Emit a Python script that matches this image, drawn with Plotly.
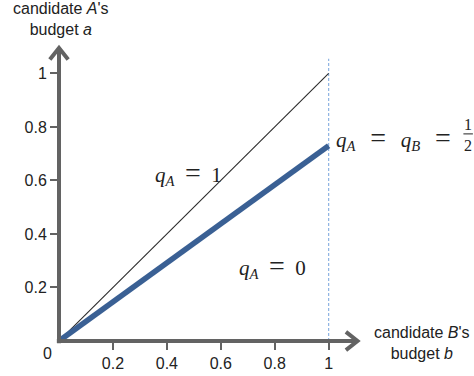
import plotly.graph_objects as go

# ---- data ----
diag_x = [0, 1]
diag_y = [0, 1]
equal_x = [0, 1]
equal_y = [0, 0.73]
bound_x = [1, 1]
bound_y = [0, 1.055]
xtick_vals = [0.2, 0.4, 0.6, 0.8, 1]
xtick_text = ["0.2", "0.4", "0.6", "0.8", "1"]
ytick_vals = [0.2, 0.4, 0.6, 0.8, 1]
ytick_text = ["0.2", "0.4", "0.6", "0.8", "1"]

X_RANGE = [0, 1.12]
Y_RANGE = [0, 1.11]
AXIS_COLOR = "#636363"
SANS = "Liberation Sans, Arial, sans-serif"
SERIF = "Liberation Serif, Times New Roman, serif"
EQ = "\u2002<span style=\"font-size:28px\">=</span>\u2002"
EQ2 = "\u2002\u2009<span style=\"font-size:28px\">=</span>\u2002\u2009"

def px(x):
    return (x - X_RANGE[0]) / (X_RANGE[1] - X_RANGE[0])

def py(y):
    return (y - Y_RANGE[0]) / (Y_RANGE[1] - Y_RANGE[0])

fig = go.Figure()
fig.add_trace(go.Scatter(x=bound_x, y=bound_y, mode="lines",
                         line=dict(color="#8db3e2", width=1.2, dash="3px,2px"),
                         hoverinfo="skip", showlegend=False))
fig.add_trace(go.Scatter(x=diag_x, y=diag_y, mode="lines",
                         line=dict(color="#2b2b2b", width=1.1),
                         hoverinfo="skip", showlegend=False))
fig.add_trace(go.Scatter(x=equal_x, y=equal_y, mode="lines",
                         line=dict(color="#3a6094", width=5.5),
                         hoverinfo="skip", showlegend=False))

# axes with arrows (paper coords derived from data ranges)
tipx, tipy = 1.107, 1.095
ax_len, ax_half = 0.043, 0.034
shapes = [
    dict(type="line", xref="paper", yref="paper", x0=px(-0.008), y0=py(0), x1=px(tipx), y1=py(0),
         line=dict(color=AXIS_COLOR, width=4)),
    dict(type="line", xref="paper", yref="paper", x0=px(0), y0=py(-0.008), x1=px(0), y1=py(tipy),
         line=dict(color=AXIS_COLOR, width=4)),
    dict(type="path", xref="paper", yref="paper",
         path=f"M {px(tipx-ax_len)},{py(ax_half)} L {px(tipx)},{py(0)} L {px(tipx-ax_len)},{py(-ax_half)}",
         line=dict(color=AXIS_COLOR, width=4)),
    dict(type="path", xref="paper", yref="paper",
         path=f"M {px(-ax_half)},{py(tipy-ax_len)} L {px(0)},{py(tipy)} L {px(ax_half)},{py(tipy-ax_len)}",
         line=dict(color=AXIS_COLOR, width=4)),
]

annotations = [
    dict(x=px(0.007), y=py(Y_RANGE[1]) + 44 / 297, xref="paper", yref="paper",
         text="candidate <i>A</i>'s<br>budget <i>a</i>",
         showarrow=False, xanchor="center", yanchor="top", yshift=2,
         font=dict(family=SANS, size=16, color="#222")),
    dict(x=px(1.348), y=py(0), xref="paper", yref="paper", text="candidate <i>B</i>'s<br>budget <i>b</i>",
         showarrow=False, xanchor="center", yanchor="middle", yshift=-2,
         font=dict(family=SANS, size=16, color="#222")),
    dict(x=0, y=0, xref="x", yref="y", text="0", showarrow=False,
         xanchor="center", yanchor="middle", xshift=-12, yshift=-12,
         font=dict(family=SANS, size=16, color="#222")),
    dict(x=0.482, y=0.628, xref="x", yref="y", text=f"<i>q</i><sub><i>A</i></sub>{EQ}1",
         showarrow=False, xanchor="center", yanchor="middle",
         font=dict(family=SERIF, size=21, color="#222")),
    dict(x=0.79, y=0.279, xref="x", yref="y", text=f"<i>q</i><sub><i>A</i></sub>{EQ}0",
         showarrow=False, xanchor="center", yanchor="middle",
         font=dict(family=SERIF, size=21, color="#222")),
    dict(x=1.018, y=0.757, xref="x", yref="y",
         text=f"<i>q</i><sub><i>A</i></sub>{EQ2}<i>q</i><sub><i>B</i></sub>{EQ2}",
         showarrow=False, xanchor="left", yanchor="middle",
         font=dict(family=SERIF, size=21, color="#222")),
    dict(x=px(1.515), y=py(0.809), xref="paper", yref="paper", text="1",
         showarrow=False, xanchor="center", yanchor="middle",
         font=dict(family=SERIF, size=16, color="#222")),
    dict(x=px(1.515), y=py(0.73), xref="paper", yref="paper", text="2",
         showarrow=False, xanchor="center", yanchor="middle",
         font=dict(family=SERIF, size=16, color="#222")),
    # fraction bar
    dict(x=px(1.535), y=py(0.774), xref="paper", yref="paper", text="",
         showarrow=True, arrowhead=0, arrowwidth=1, arrowcolor="#222",
         ax=-11, ay=0, standoff=0, startstandoff=0),
]

fig.update_layout(
    width=474, height=376,
    margin=dict(l=59, r=113, t=44, b=35, autoexpand=False),
    paper_bgcolor="white", plot_bgcolor="white",
    shapes=shapes, annotations=annotations,
    xaxis=dict(range=X_RANGE, showgrid=False, zeroline=False, showline=False,
               tickvals=xtick_vals, ticktext=xtick_text, ticks="outside", ticklen=8,
               tickwidth=2, tickcolor=AXIS_COLOR,
               tickfont=dict(family=SANS, size=16, color="#222")),
    yaxis=dict(range=Y_RANGE, showgrid=False, zeroline=False, showline=False,
               tickvals=ytick_vals, ticktext=ytick_text, ticks="outside", ticklen=8,
               tickwidth=2, tickcolor=AXIS_COLOR,
               tickfont=dict(family=SANS, size=16, color="#222")),
)

fig.write_html("out.html", config={"displayModeBar": False},
               post_script="document.body.style.margin='0';document.body.style.padding='0';")
